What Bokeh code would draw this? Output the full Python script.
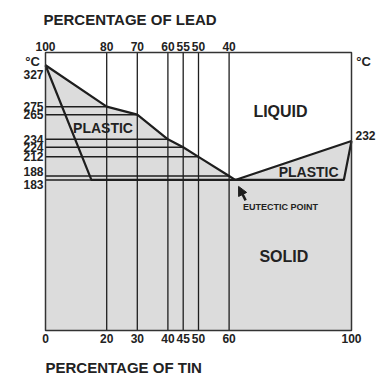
from bokeh.plotting import figure
from bokeh.models import Range1d, Arrow, NormalHead
from bokeh.core.properties import value
from bokeh.embed import file_html
from bokeh.resources import INLINE

# ---- data ----
tin_ticks = [0, 20, 30, 40, 45, 50, 60, 100]
lead_ticks = [100, 80, 70, 60, 55, 50, 40]
alloy_tin = [20, 30, 40, 45, 50, 60]
liquidus_tin = [0, 20, 30, 40, 45, 50, 60, 62, 100]
liquidus_temp = [327, 275, 265, 234, 224, 212, 188, 183, 232]
solidus_tin = [0, 15, 97.5, 100]
solidus_temp = [327, 183, 183, 232]
iso_temp = [275, 265, 234, 224, 212, 188, 183]
iso_end_tin = [20, 30, 40, 45, 50, 60, 97.5]
temp_ticks = [327, 275, 265, 234, 224, 212, 188, 183]
right_temp = 232

# ---- layout (pixels) ----
W, H = 379, 383
FL, FR, FT, FB = 45, 351, 52, 330          # plotting box in canvas pixels
X0, X1 = 0, 100                              # percentage of tin
Y0, Y1 = -6, 343                             # temperature span of box
XS = (FR - FL) / (X1 - X0)
YS = (FB - FT) / (Y1 - Y0)

FONT = value("Liberation Sans")
TXT = "#222222"
LN = "#1e1e1e"

p = figure(width=W, height=H,
           x_range=Range1d(X0 - FL / XS, X1 + (W - FR) / XS),
           y_range=Range1d(Y0 - (H - FB) / YS, Y1 + FT / YS),
           x_axis_type=None, y_axis_type=None, output_backend="svg",
           toolbar_location=None, min_border=0)
p.outline_line_color = None
p.background_fill_color = "white"
p.border_fill_color = "white"

# grey region below liquidus
p.varea(x=liquidus_tin, y1=Y0, y2=liquidus_temp, fill_color="#dcdcdc")

# vertical alloy lines
p.segment(x0=alloy_tin, y0=Y0, x1=alloy_tin, y1=Y1, line_color=LN, line_width=1.3)

# isotherms
p.segment(x0=0, y0=iso_temp, x1=iso_end_tin, y1=iso_temp, line_color=LN, line_width=1.5)

# phase boundaries
p.line(liquidus_tin, liquidus_temp, line_color=LN, line_width=2.2)
p.line(solidus_tin, solidus_temp, line_color=LN, line_width=2.2)

# box
p.quad(left=X0, right=X1, bottom=Y0, top=Y1, fill_color=None,
       line_color="#333333", line_width=1.5)


def txt(x, y, text, size, align="center", xo=0, yo=0, baseline="middle"):
    p.text(x=x, y=y, text=text, x_offset=xo, y_offset=yo, text_align=align,
           text_baseline=baseline, text_font=FONT, text_font_style="bold",
           text_font_size=size, text_color=TXT)


# tick labels
txt(tin_ticks, [Y0] * len(tin_ticks), [str(t) for t in tin_ticks], "12px", yo=8)
top_pos = [100 - v for v in lead_ticks]
txt(top_pos, [Y1] * len(top_pos), [str(v) for v in lead_ticks], "12px", yo=-6)

shift = {327: 9, 188: -4, 183: 5}
txt([0] * len(temp_ticks), temp_ticks, [str(t) for t in temp_ticks], "12px",
    align="right", xo=-2, yo=[shift.get(t, 0) for t in temp_ticks])
txt([100], [right_temp], [str(right_temp)], "12px", align="left", xo=4, yo=-5)

txt([0], [Y1], ["°C"], "13px", xo=-13, yo=9)
txt([100], [Y1], ["°C"], "13px", xo=12, yo=9)
txt([0], [Y1], ["PERCENTAGE OF LEAD"], "15px", align="left", xo=-2, yo=-33)
txt([0], [Y0], ["PERCENTAGE OF TIN"], "15px", align="left", xo=0, yo=37)

txt([76.8], [269], ["LIQUID"], "16px")
txt([18.8], [247.6], ["PLASTIC"], "14px")
txt([86], [192.4], ["PLASTIC"], "14px")
txt([77.9], [87], ["SOLID"], "16px")
txt([76.8], [148.5], ["EUTECTIC POINT"], "9px")

p.add_layout(Arrow(end=NormalHead(size=9, fill_color=LN, line_color=LN),
                   x_start=65.4, y_start=157.3, x_end=63.1, y_end=174.9,
                   line_color=LN, line_width=2.5))

open("out.html", "w").write(file_html(p, INLINE))
